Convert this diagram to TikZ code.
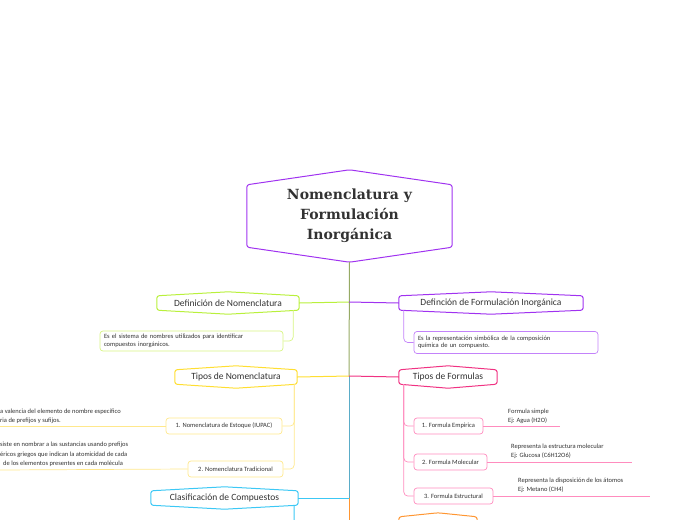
\documentclass[tikz,border=0pt]{standalone}
\usepackage{fontspec}
\setmainfont{Carlito}
\newfontfamily\titlefont{DejaVu Serif}
\usepackage{tikz}
\usetikzlibrary{calc}
\definecolor{mapviolet}{RGB}{160,50,240}
\definecolor{mapviolet2}{RGB}{195,130,250}
\definecolor{maplime}{RGB}{185,240,60}
\definecolor{maplime2}{RGB}{215,245,130}
\definecolor{mapyellow}{RGB}{255,222,50}
\definecolor{mapyellow2}{RGB}{255,232,140}
\definecolor{mappink}{RGB}{240,50,130}
\definecolor{mappink2}{RGB}{255,140,190}
\definecolor{mapcyan}{RGB}{60,200,245}
\definecolor{maporange}{RGB}{255,150,50}
\definecolor{mapolive}{RGB}{150,170,100}
\definecolor{mapteal}{RGB}{90,172,200}
\definecolor{maptext}{RGB}{50,50,50}

\tikzset{
  topic/.style={inner sep=0pt, minimum height=14pt, text=maptext,
    font=\fontsize{9.5}{10}\selectfont},
  leaf/.style={draw, rounded corners=3pt, line width=0.7pt, inner sep=0pt,
    minimum height=16pt, text=maptext, font=\fontsize{6.5}{7.5}\selectfont},
  textbox/.style={leaf, align=left, text width=#1, inner xsep=4pt},
  note/.style={inner sep=0pt, align=left, anchor=south west, text=maptext,
    font=\fontsize{6.5}{9.5}\selectfont},
  link/.style={line width=1pt},
}
% hexagon-like frame round a topic node
\newcommand{\topicframe}[3]{%
  \draw[#2, line width=1pt, rounded corners=2.5pt]
    (#1.north west) -- ([yshift=#3]#1.north) -- (#1.north east)
    -- (#1.south east) -- ([yshift=-#3]#1.south) -- (#1.south west) -- cycle;}

\begin{document}
\begin{tikzpicture}[x=1pt,y=-1pt]
    \useasboundingbox (0,0) rectangle (697,520);
    \clip (0,0) rectangle (697,520);

    % Central topic
    \node[inner sep=0pt, minimum width=205pt, minimum height=62pt, align=center,
      text=maptext, font=\titlefont\bfseries\fontsize{14}{20}\selectfont]
      (main) at (349.5,216) {Nomenclatura y\\Formulación\\Inorgánica};
    \topicframe{main}{mapviolet}{15pt}

    % Trunk
    \coordinate (t1) at (349,302);
    \coordinate (t2) at (349,376);
    \coordinate (t3) at (349,498);
    \coordinate (t4) at (349,524);
    \draw[link,mapolive] ([yshift=-15pt]main.south) -- (t2);
    \draw[link,mapteal] (t2) -- (t3);
    \draw[link,maporange] (t3) -- (t4);

    % Left: definition of nomenclature
    \node[topic, minimum width=142pt] (defnom) at (228,303) {Definición de Nomenclatura};
    \topicframe{defnom}{maplime}{4pt}
    \draw[link,maplime] (defnom.east) -- (t1);
    \node[textbox=175pt, draw=maplime2, minimum height=20pt] (defnomtxt) at (191.5,341)
      {Es el sistema de nombres utilizados para identificar\\compuestos inorgánicos.};
    \draw[maplime2, line width=0.7pt, rounded corners=4pt]
      ([xshift=-6pt]defnom.south east) |- (defnomtxt.east);

    % Right: definition of formulation
    \node[topic, minimum width=184pt] (defform) at (491,303) {Definción de Formulación Inorgánica};
    \topicframe{defform}{mapviolet}{4pt}
    \draw[link,mapviolet] (t1) -- (defform.west);
    \node[textbox=176pt, draw=mapviolet2, minimum height=22pt] (defformtxt) at (506,342.5)
      {Es la representación simbólica de la composición\\química de un compuesto.};
    \draw[mapviolet2, line width=0.7pt, rounded corners=4pt]
      ([xshift=5pt]defform.south west) |- (defformtxt.west);

    % Left: types of nomenclature
    \node[topic, minimum width=122pt] (tipnom) at (236,377) {Tipos de Nomenclatura};
    \topicframe{tipnom}{mapyellow}{4pt}
    \draw[link,mapyellow] (tipnom.east) -- (t2);
    \node[leaf, draw=mapyellow2, minimum width=116pt] (iupac) at (224,426)
      {1. Nomenclatura de Estoque (IUPAC)};
    \node[leaf, draw=mapyellow2, minimum width=95pt] (trad) at (235.5,469)
      {2. Nomenclatura Tradicional};
    \draw[mapyellow2, line width=0.7pt, rounded corners=4pt]
      ([xshift=-3pt]tipnom.south east) |- (iupac.east);
    \draw[mapyellow2, line width=0.7pt, rounded corners=4pt]
      ([xshift=-3pt]tipnom.south east) |- (trad.east);
    \coordinate (iupacend) at (0,426);
    \coordinate (tradend) at (0,470);
    \draw[mapyellow2, line width=0.7pt] (iupac.west) -- (iupacend);
    \draw[mapyellow2, line width=0.7pt] (trad.west) -- (tradend);
    \node[note] (iupacnote) at (0,424)
      {a valencia del elemento de nombre específico\\ria de prefijos y sufijos.};
    \node[note] (tradnote) at (0,467)
      {siste en nombrar a las sustancias usando prefijos\\éricos griegos que indican la atomicidad de cada\\\hspace{3pt}de los elementos presentes en cada molécula};

    % Right: types of formulas
    \node[topic, minimum width=98pt] (tipform) at (448,377) {Tipos de Formulas};
    \topicframe{tipform}{mappink}{4pt}
    \draw[link,mappink] (t2) -- (tipform.west);
    \node[leaf, draw=mappink2, minimum width=69pt] (emp) at (448.5,426) {1. Formula Empirica};
    \node[leaf, draw=mappink2, minimum width=73pt] (mol) at (450.5,462) {2. Formula Molecular};
    \node[leaf, draw=mappink2, minimum width=79pt] (est) at (453.5,496) {3. Formula Estructural};
    \foreach \f in {emp,mol,est}
      \draw[mappink2, line width=0.7pt, rounded corners=4pt]
        ([xshift=5pt]tipform.south west) |- (\f.west);
    \coordinate (empend) at (560,426);
    \coordinate (molend) at (632,462);
    \coordinate (estend) at (650,496);
    \draw[mappink2, line width=0.7pt] (emp.east) -- (empend);
    \draw[mappink2, line width=0.7pt] (mol.east) -- (molend);
    \draw[mappink2, line width=0.7pt] (est.east) -- (estend);
    \node[note] (empnote) at (508,424) {Formula simple\\Ej: Agua (H2O)};
    \node[note] (molnote) at (511,459) {Representa la estructura molecular\\Ej: Glucosa (C6H12O6)};
    \node[note] (estnote) at (518,493) {Representa la disposición de los átomos\\Ej: Metano (CH4)};

    % Left: classification
    \node[topic, minimum width=147pt] (clasif) at (224.5,498) {Clasificación de Compuestos};
    \topicframe{clasif}{mapcyan}{4pt}
    \draw[link,mapcyan] (clasif.east) -- (t3);
    \coordinate (clasifend) at (294,520);
    \draw[link,mapcyan] ([xshift=-4pt]clasif.south east) -- (clasifend);

    % Right: next topic (cut by the edge)
    \node[topic, minimum width=78pt] (nexttopic) at (438,524) {};
    \topicframe{nexttopic}{maporange}{4pt}
    \draw[link,maporange] (t4) -- (nexttopic.west);
\end{tikzpicture}
\end{document}
